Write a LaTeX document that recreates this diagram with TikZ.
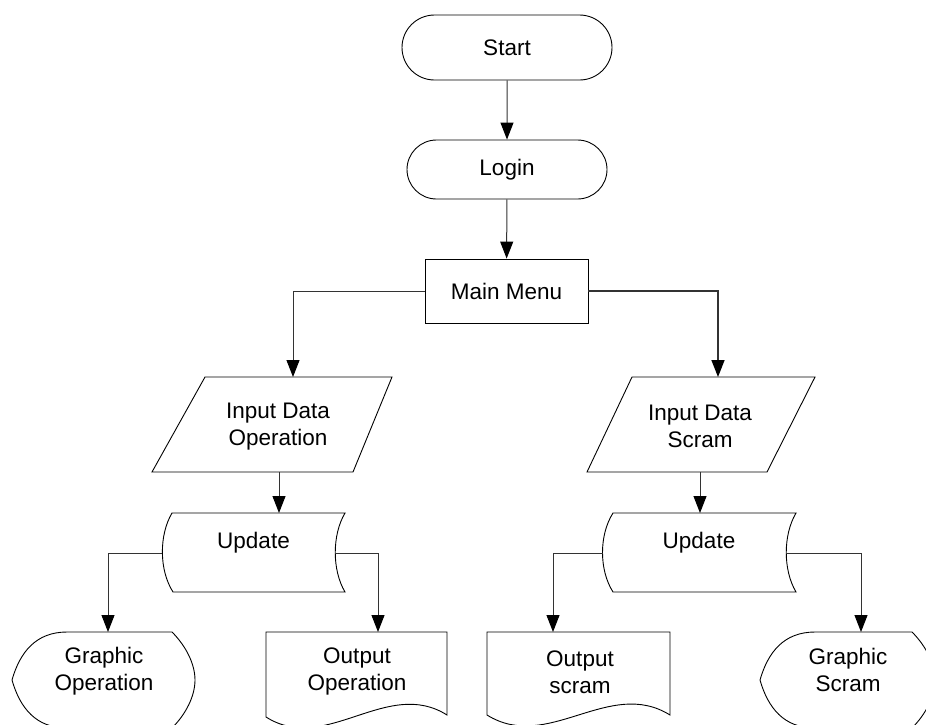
\documentclass[tikz,border=0pt]{standalone}
\usepackage{fontspec}
\setmainfont{Liberation Sans}
\usetikzlibrary{arrows.meta,shapes.misc}
\begin{document}
\begin{tikzpicture}[x=1pt,y=-1pt,
  shapeline/.style={draw=black,line width=0.9pt},
  txt/.style={font=\fontsize{22.5}{27}\selectfont,align=center,inner sep=0pt},
  terminal/.style={shapeline,txt,rounded rectangle},
  process/.style={shapeline,txt,rectangle},
  flow/.style={draw=black!80,line width=1pt,-{Triangle[width=13pt,length=17pt,black]}},
]
\useasboundingbox (0,0) rectangle (926,724);

% terminals and main menu
\node[terminal,minimum width=210pt,minimum height=65pt] (start) at (507,47.5) {Start};
\node[terminal,minimum width=200pt,minimum height=59pt] (login) at (507,169.5) {Login};
\node[process,minimum width=163pt,minimum height=64pt] (menu) at (506.5,291) {Main Menu};

% input data (parallelograms)
\draw[shapeline] (205,377) -- (392,377) -- (353,472) -- (152,472) -- cycle;
\node[txt] (ido) at (278,427) {Input Data\\Operation};
\coordinate (idoTop) at (293,377);
\coordinate (idoBot) at (279,472);

\draw[shapeline] (632,377) -- (815,377) -- (767,472) -- (587,472) -- cycle;
\node[txt] (ids) at (700,426.5) {Input Data\\Scram};
\coordinate (idsTop) at (718,377);
\coordinate (idsBot) at (700,472);

% stored data (update)
\draw[shapeline] (172,513) -- (345,513) .. controls (332,535) and (332,570) .. (345,592)
  -- (173,592) .. controls (159,570) and (159,535) .. (172,513) -- cycle;
\node[txt] (upd1) at (253.5,542.4) {Update};
\coordinate (u1Top) at (279,513);
\coordinate (u1W) at (162,553);
\coordinate (u1E) at (335,553);

\draw[shapeline] (613,513) -- (796,513) .. controls (783,535) and (783,570) .. (796,592)
  -- (613,592) .. controls (599,570) and (599,535) .. (613,513) -- cycle;
\node[txt] (upd2) at (699,542.4) {Update};
\coordinate (u2Top) at (700,513);
\coordinate (u2W) at (603,553);
\coordinate (u2E) at (786,553);

% display shapes
\draw[shapeline] (12,680) .. controls (20,652) and (36,632) .. (67,632) -- (172,632)
  .. controls (186,646) and (195,664) .. (195,680) .. controls (195,696) and (186,714) .. (172,728)
  -- (67,728) .. controls (36,728) and (20,708) .. (12,680) -- cycle;
\node[txt] (go) at (104,671) {Graphic\\Operation};
\coordinate (goTop) at (108,632);

\draw[shapeline] (760,680) .. controls (768,652) and (784,632) .. (815,632) -- (912,632)
  .. controls (926,646) and (935,664) .. (935,680) .. controls (935,696) and (926,714) .. (912,728)
  -- (815,728) .. controls (784,728) and (768,708) .. (760,680) -- cycle;
\node[txt] (gs) at (848,669.5) {Graphic\\Scram};
\coordinate (gsTop) at (861,632);

% document shapes
\draw[shapeline] (266,632) -- (447,632) -- (447,715)
  .. controls (387,677) and (326,755) .. (266,717) -- cycle;
\node[txt] (oo) at (357,671) {Output\\Operation};
\coordinate (ooTop) at (378,632);

\draw[shapeline] (487,632) -- (670,632) -- (670,715)
  .. controls (609,677) and (548,753) .. (487,715) -- cycle;
\node[txt] (osc) at (580,672.5) {Output\\scram};
\coordinate (osTop) at (553,632);

% connectors
\draw[flow] (start) -- (login);
\draw[flow] (login) -- (menu);
\draw[flow] (menu.west) -| (idoTop);
\draw[flow,line width=1.5pt] (menu.east) -| (idsTop);
\draw[flow] (idoBot) -- (u1Top);
\draw[flow] (idsBot) -- (u2Top);
\draw[flow] (u1W) -| (goTop);
\draw[flow] (u1E) -| (ooTop);
\draw[flow] (u2W) -| (osTop);
\draw[flow] (u2E) -| (gsTop);
\end{tikzpicture}
\end{document}
